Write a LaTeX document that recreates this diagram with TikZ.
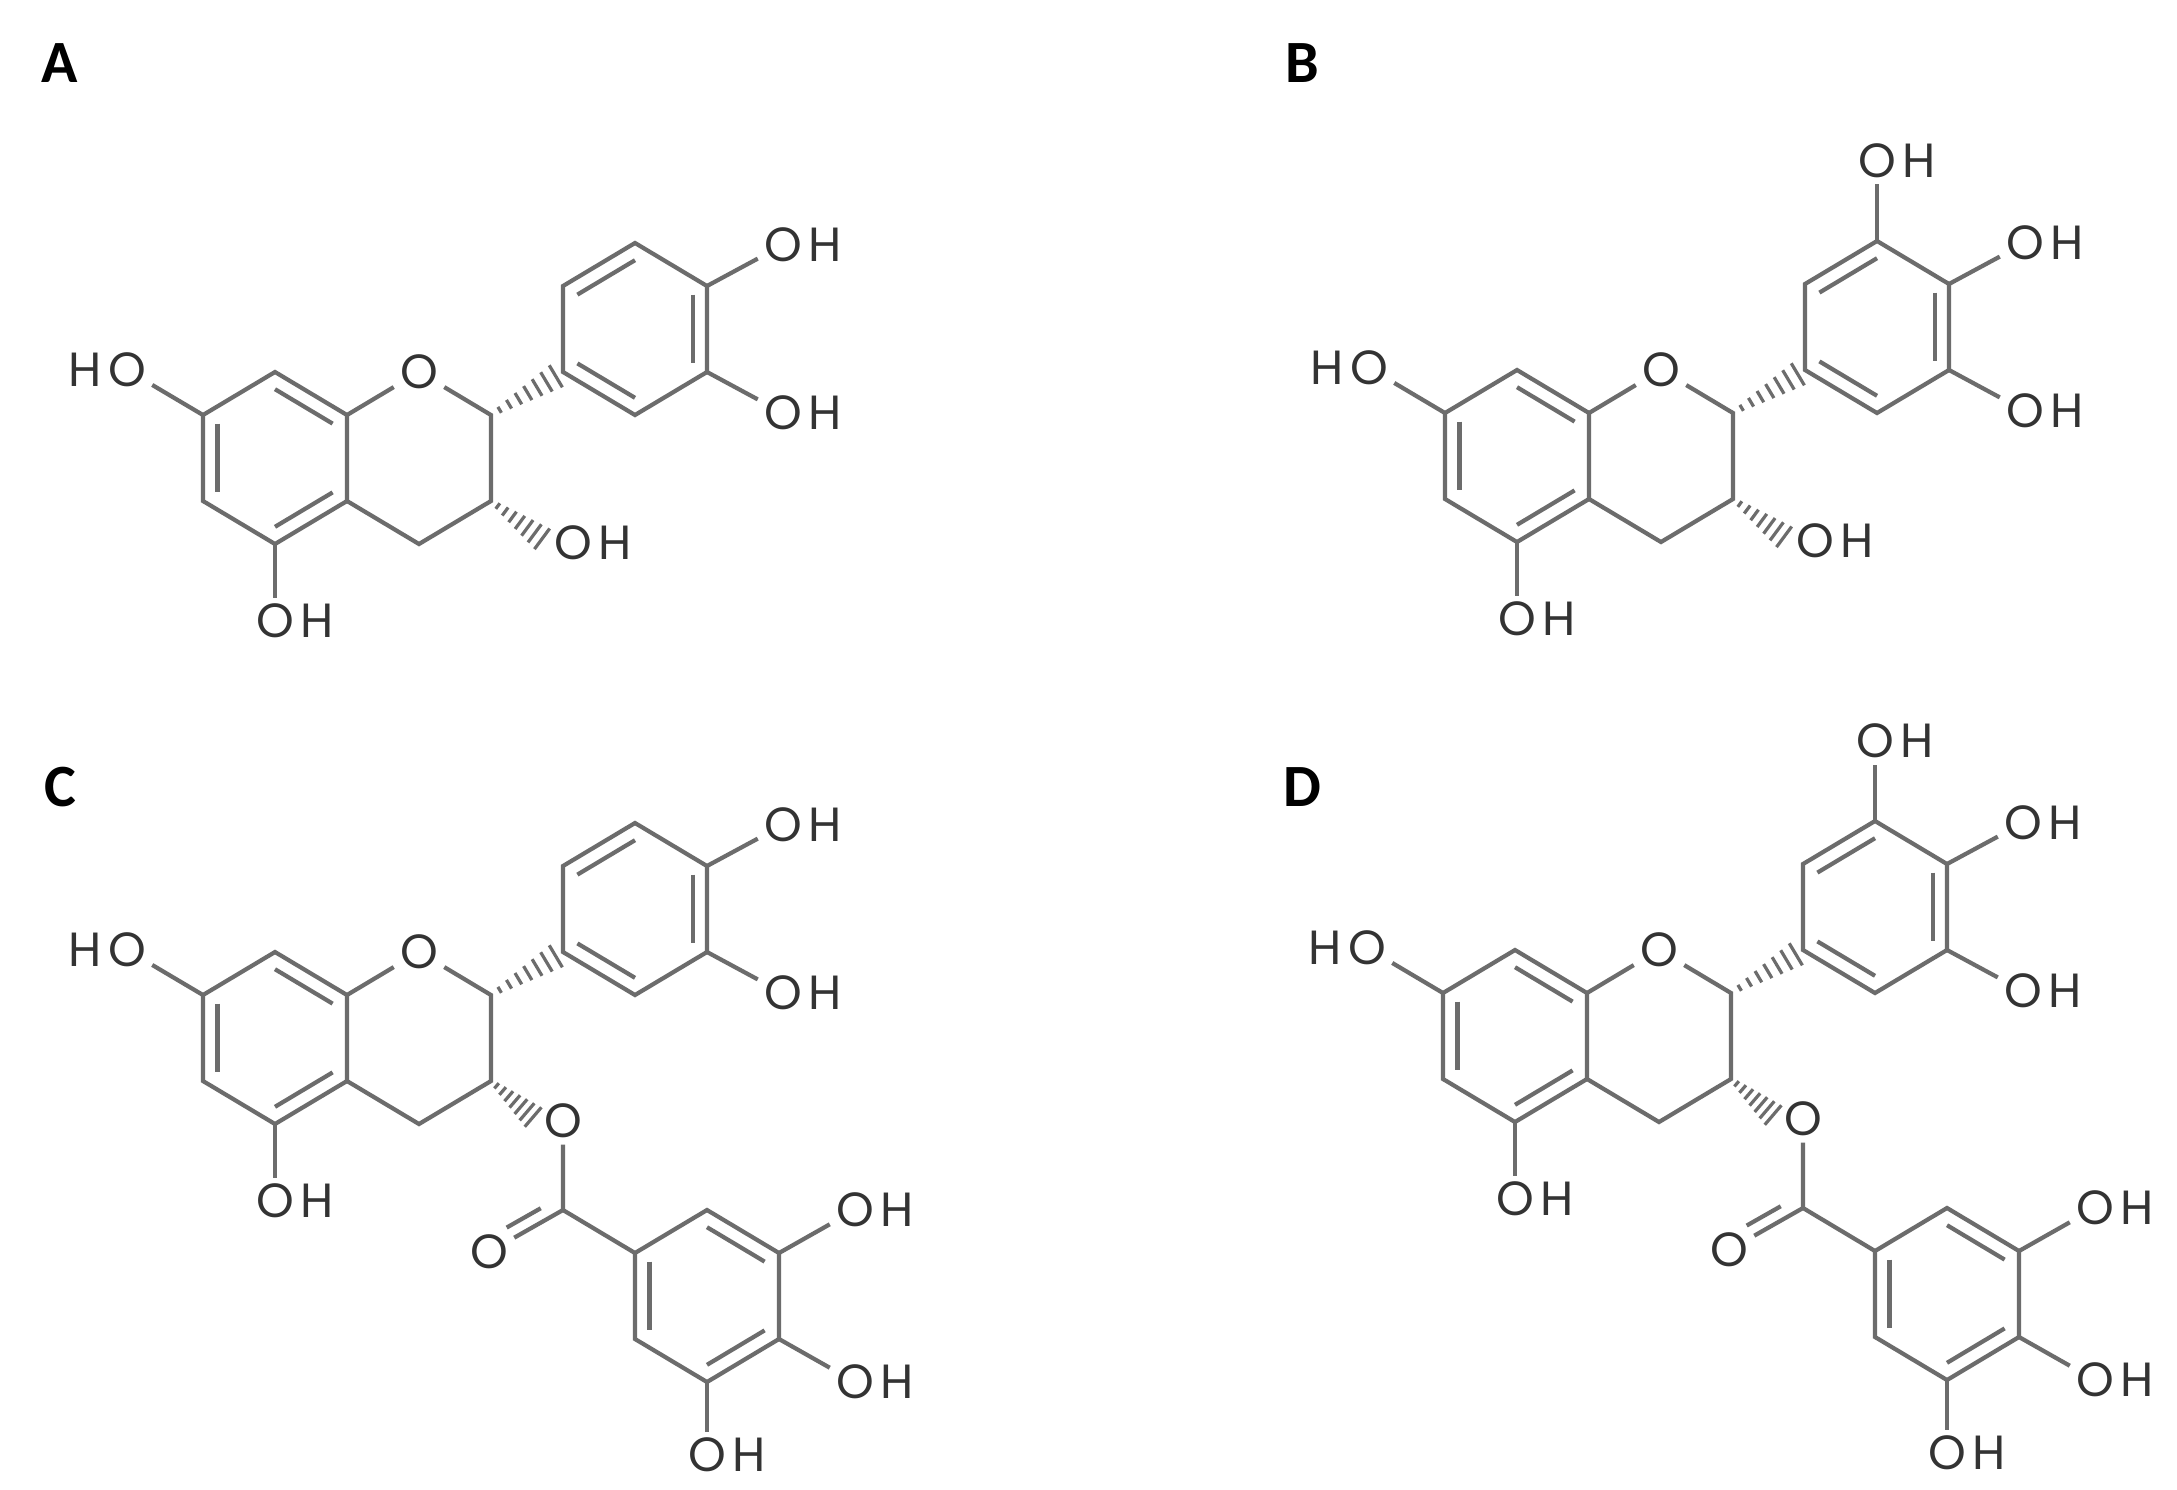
\documentclass[tikz,border=0pt]{standalone}
\usepackage{fontspec}
\setmainfont{Poppins}
\newfontfamily\lblfont{Carlito}
\usetikzlibrary{calc}
\tikzset{
  bond/.style={draw=gray!85!black, line width=2.1pt},
  atom/.style={text=black!80, font=\fontsize{24}{24}\selectfont, inner sep=3pt},
  hlab/.style={text=black!80, font=\fontsize{24}{24}\selectfont, inner sep=0pt},
  plabel/.style={font=\lblfont\bfseries\fontsize{30}{30}\selectfont, anchor=center},
}
\newcommand\dbl[3]{\draw[bond] ($(#1)!0.2!(#3)$) -- ($(#2)!0.2!(#3)$);}
\newcommand\hashb[2]{%
  \foreach \t in {0.12,0.25,...,0.95}{%
    \pgfmathsetmacro\w{1+6*\t}%
    \draw[bond,line width=1.6pt] ($(#1)!\t!(#2)!\w pt!90:(#2)$) -- ($(#1)!\t!(#2)!\w pt!-90:(#2)$);}}
\newcommand\mol[5]{%
\begin{scope}[shift={(#2,#3)}, name prefix=#1-]
  \coordinate (c8a) at (0,0); \coordinate (c8) at (-72,-43); \coordinate (c7) at (-144,0);
  \coordinate (c6) at (-144,86); \coordinate (c5) at (-72,129); \coordinate (c4a) at (0,86);
  \coordinate (c2) at (144,0); \coordinate (c3) at (144,86); \coordinate (c4) at (72,129);
  \coordinate (ac) at (-72,43);
  \coordinate (b1) at (216,-43); \coordinate (b2) at (216,-129); \coordinate (b3) at (288,-172);
  \coordinate (b4) at (360,-129); \coordinate (b5) at (360,-43); \coordinate (b6) at (288,0);
  \coordinate (bc) at (288,-86);
  \node[atom] (o1) at (72,-43) {O};
  \node[atom] (o7) at (-220,-45) {O}; \node[hlab,anchor=east] (h7) at (o7.west) {H};
  \node[atom] (o5) at (-72,206) {O}; \node[hlab,anchor=west] (h5) at (o5.east) {H};
  \node[atom] (o4p) at (436,-170) {O}; \node[hlab,anchor=west] (h4p) at (o4p.east) {H};
  \node[atom] (o5p) at (436,-2) {O}; \node[hlab,anchor=west] (h5p) at (o5p.east) {H};
  % A ring
  \draw[bond] (c8a) -- (c8) -- (c7) -- (c6) -- (c5) -- (c4a) -- cycle;
  \dbl{c8}{c8a}{ac} \dbl{c7}{c6}{ac} \dbl{c5}{c4a}{ac}
  % C ring
  \draw[bond] (c8a) -- (o1) -- (c2) -- (c3) -- (c4) -- (c4a);
  \draw[bond] (c7) -- (o7); \draw[bond] (c5) -- (o5);
  % B ring
  \draw[bond] (b1) -- (b2) -- (b3) -- (b4) -- (b5) -- (b6) -- cycle;
  \dbl{b2}{b3}{bc} \dbl{b4}{b5}{bc} \dbl{b6}{b1}{bc}
  \hashb{c2}{b1}
  \draw[bond] (b4) -- (o4p); \draw[bond] (b5) -- (o5p);
  \ifnum#4=1
    \node[atom] (o3p) at (288,-252) {O}; \node[hlab,anchor=west] (h3p) at (o3p.east) {H};
    \draw[bond] (b3) -- (o3p);
  \fi
  \ifnum#5=1
    \node[atom] (oe) at (216,126) {O};
    \coordinate (cc) at (216,215);
    \node[atom] (oc) at (142,257) {O};
    \coordinate (g1) at (288,258); \coordinate (g2) at (360,215); \coordinate (g3) at (432,258);
    \coordinate (g4) at (432,344); \coordinate (g5) at (360,387); \coordinate (g6) at (288,344);
    \coordinate (gc) at (360,301);
    \hashb{c3}{oe.west}
    \draw[bond] (oe) -- (cc) -- (g1);
    \draw[bond] (cc) -- (oc);
    \draw[bond] ($(cc)!0.22!(oc)+(-6,-11)$) -- ($(cc)!0.68!(oc)+(-6,-11)$);
    \draw[bond] (g1) -- (g2) -- (g3) -- (g4) -- (g5) -- (g6) -- cycle;
    \dbl{g1}{g6}{gc} \dbl{g2}{g3}{gc} \dbl{g4}{g5}{gc}
    \node[atom] (og3) at (508,215) {O}; \node[hlab,anchor=west] at (og3.east) {H};
    \node[atom] (og4) at (508,387) {O}; \node[hlab,anchor=west] at (og4.east) {H};
    \node[atom] (og5) at (360,460) {O}; \node[hlab,anchor=west] at (og5.east) {H};
    \draw[bond] (g3) -- (og3); \draw[bond] (g4) -- (og4); \draw[bond] (g5) -- (og5);
  \else
    \node[atom] (o3) at (226,128) {O}; \node[hlab,anchor=west] (h3) at (o3.east) {H};
    \hashb{c3}{o3.west}
  \fi
\end{scope}}
\begin{document}
\begin{tikzpicture}[x=0.5pt,y=-0.5pt]
\fill[white] (0,0) rectangle (2177,1489);
\useasboundingbox (0,0) rectangle (2177,1489);
\node[plabel] (lA) at (60,63) {A};
\node[plabel] (lB) at (1302,63) {B};
\node[plabel] (lC) at (60,787) {C};
\node[plabel] (lD) at (1302,787) {D};
\mol{A}{347}{415}{0}{0}
\mol{B}{1589}{413}{1}{0}
\mol{C}{347}{995}{0}{1}
\mol{D}{1587}{993}{1}{1}
\end{tikzpicture}
\end{document}
